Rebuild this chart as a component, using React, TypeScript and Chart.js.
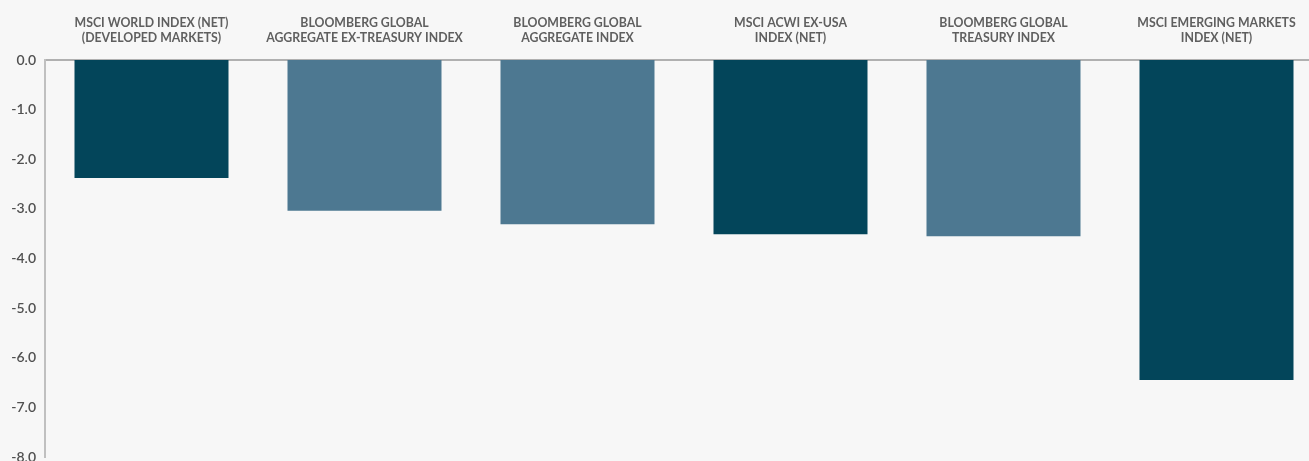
import React, { useEffect, useRef } from "react";
import { Chart, registerables } from "chart.js";

Chart.register(...registerables);

const categories: string[][] = [
  ["MSCI WORLD INDEX (NET)", "(DEVELOPED MARKETS)"],
  ["BLOOMBERG GLOBAL", "AGGREGATE EX-TREASURY INDEX"],
  ["BLOOMBERG GLOBAL", "AGGREGATE INDEX"],
  ["MSCI ACWI EX-USA", "INDEX (NET)"],
  ["BLOOMBERG GLOBAL", "TREASURY INDEX"],
  ["MSCI EMERGING MARKETS", "INDEX (NET)"],
];
const returns: number[] = [-2.38, -3.04, -3.31, -3.51, -3.55, -6.45];
const barColors: string[] = ["#03455a", "#4d7891", "#4d7891", "#03455a", "#4d7891", "#03455a"];
const yMin = -8;
const yMax = 0;
const yStep = 1;

export default function App() {
  const ref = useRef<HTMLCanvasElement | null>(null);

  useEffect(() => {
    if (!ref.current) return;
    const chart = new Chart(ref.current, {
      type: "bar",
      data: {
        labels: categories,
        datasets: [
          {
            data: returns,
            backgroundColor: barColors,
            borderWidth: 0,
            barPercentage: 0.723,
            categoryPercentage: 1,
          },
        ],
      },
      options: {
        animation: false,
        responsive: false,
        maintainAspectRatio: false,
        layout: { padding: { left: 0, right: 17, top: 0, bottom: 23 } },
        plugins: { legend: { display: false }, tooltip: { enabled: false } },
        scales: {
          x: {
            position: "top",
            offset: true,
            grid: { display: false, drawTicks: false },
            border: { display: true, color: "#b0b0b0", width: 2 },
            ticks: {
              color: "#5f5f5f",
              padding: 14,
              maxRotation: 0,
              autoSkip: false,
              font: { family: "Lato", size: 12.3, weight: "bold", lineHeight: 1.22 },
            },
            afterFit: (s: any) => {
              s.height = 60;
            },
          },
          y: {
            min: yMin,
            max: yMax,
            grid: { display: false, drawTicks: false },
            border: { display: true, color: "#c0c0c0", width: 2 },
            ticks: {
              stepSize: yStep,
              color: "#505050",
              padding: 9,
              font: { family: "Lato", size: 14, weight: "600" },
              callback: (v: any) => Number(v).toFixed(1),
            },
            afterFit: (s: any) => {
              s.width = 45;
            },
          },
        },
      },
    });
    return () => chart.destroy();
  }, []);

  return (
    <div
      style={{
        position: "fixed",
        left: 0,
        top: 0,
        right: 0,
        bottom: 0,
        overflow: "hidden",
        background: "#f7f7f7",
      }}
    >
      <canvas
        ref={ref}
        width={1340}
        height={480}
        style={{ position: "absolute", left: 0, top: 0, width: 1340, height: 480 }}
      />
    </div>
  );
}
